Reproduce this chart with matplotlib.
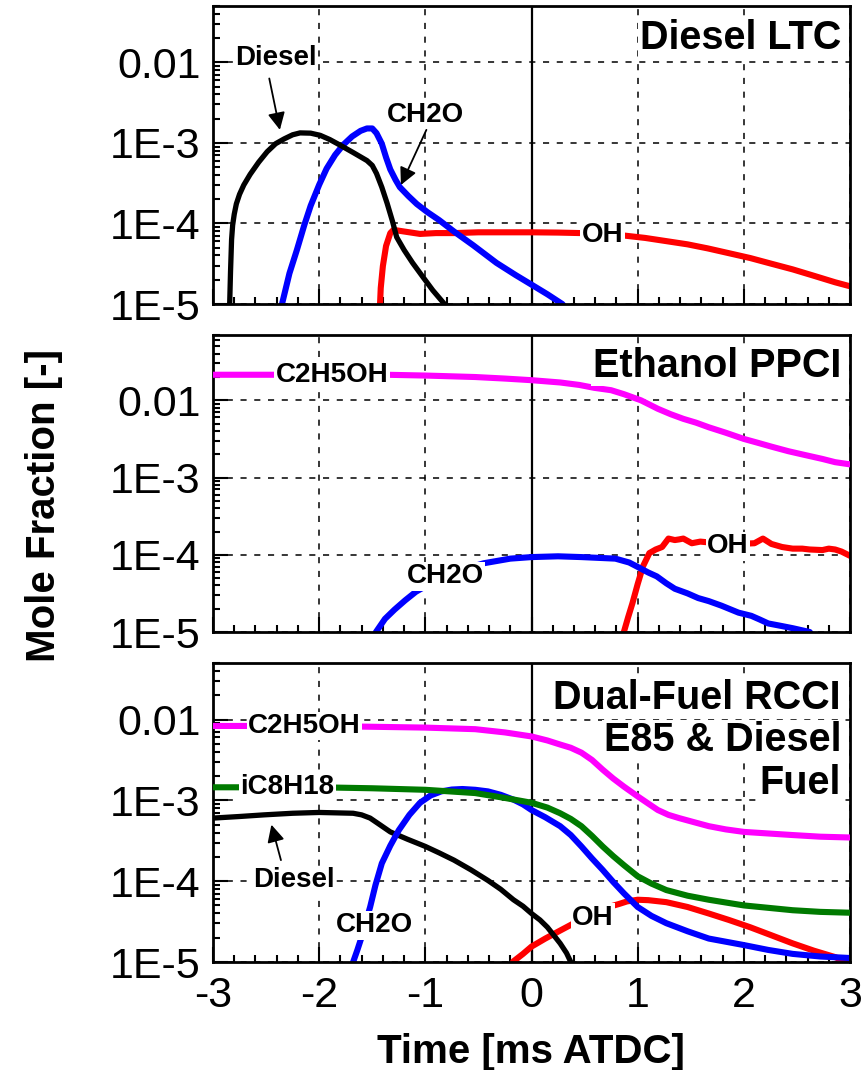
import matplotlib
matplotlib.use("Agg")
import matplotlib.pyplot as plt
from matplotlib.ticker import FixedLocator, FixedFormatter, LogLocator, MultipleLocator, NullFormatter

plt.rcParams['font.family'] = ['Liberation Sans', 'DejaVu Sans']
plt.rcParams['axes.unicode_minus'] = False

# ---------------- Diesel LTC ----------------
ltc_diesel_t = [-2.845, -2.835, -2.825, -2.815, -2.80, -2.78, -2.75, -2.71, -2.65, -2.57, -2.49, -2.41, -2.33,
                -2.25, -2.18, -2.08, -1.99, -1.90, -1.80, -1.68, -1.55, -1.50, -1.46, -1.41, -1.36, -1.31,
                -1.27, -1.20, -1.12, -1.02, -0.93, -0.82, -0.78]
ltc_diesel_x = [7.9e-6, 2.5e-5, 6.3e-5, 9.5e-5, 1.3e-4, 1.75e-4, 2.3e-4, 3.0e-4, 4.07e-4, 5.75e-4, 7.76e-4,
                9.77e-4, 1.12e-3, 1.26e-3, 1.33e-3, 1.32e-3, 1.24e-3, 1.10e-3, 9.33e-4, 7.59e-4, 6.03e-4, 5.25e-4,
                4.17e-4, 2.82e-4, 1.78e-4, 1.07e-4, 6.76e-5, 4.68e-5, 3.24e-5, 2.14e-5, 1.48e-5, 1.0e-5, 8.3e-6]

ltc_ch2o_t = [-2.37, -2.35, -2.28, -2.21, -2.14, -2.08, -2.0, -1.93, -1.85, -1.77, -1.69, -1.61, -1.55, -1.50,
              -1.46, -1.41, -1.37, -1.33, -1.28, -1.24, -1.16, -1.08, -0.98, -0.87, -0.73, -0.55, -0.33, -0.15,
              0.0, 0.15, 0.29, 0.32]
ltc_ch2o_x = [7.9e-6, 1.0e-5, 2.4e-5, 4.68e-5, 9.55e-5, 1.66e-4, 3.02e-4, 4.79e-4, 7.08e-4, 9.55e-4, 1.20e-3, 1.41e-3,
              1.51e-3, 1.51e-3, 1.32e-3, 9.77e-4, 6.61e-4, 4.68e-4, 3.47e-4, 2.82e-4, 2.19e-4, 1.74e-4, 1.38e-4,
              1.10e-4, 7.94e-5, 5.37e-5, 3.24e-5, 2.29e-5, 1.74e-5, 1.32e-5, 1.0e-5, 8.9e-6]

ltc_oh_t = [-1.43, -1.42, -1.40, -1.37, -1.33, -1.30, -1.2, -1.05, -0.9, -0.73, -0.5, -0.25, 0.0, 0.25, 0.47,
            0.87, 1.07, 1.27, 1.47, 1.66, 1.86, 2.06, 2.26, 2.46, 2.66, 2.86, 3.0]
ltc_oh_x = [7.9e-6, 1.58e-5, 2.95e-5, 5.25e-5, 7.59e-5, 8.32e-5, 7.94e-5, 7.41e-5, 7.59e-5, 7.59e-5, 7.76e-5,
            7.76e-5, 7.76e-5, 7.7e-5, 7.59e-5, 7.08e-5, 6.61e-5, 6.03e-5, 5.50e-5, 4.90e-5, 4.27e-5, 3.72e-5,
            3.16e-5, 2.69e-5, 2.24e-5, 1.86e-5, 1.66e-5]

# ---------------- Ethanol PPCI ----------------
ppci_etoh_t = [-3.0, -2.0, -1.37, -1.0, -0.53, -0.25, 0.0, 0.27, 0.45, 0.59, 0.75, 0.87, 1.03, 1.19, 1.31, 1.43,
               1.55, 1.67, 1.83, 2.0, 2.13, 2.26, 2.42, 2.58, 2.74, 2.86, 3.0]
ppci_etoh_x = [0.0214, 0.0214, 0.0214, 0.0209, 0.0200, 0.0191, 0.0182, 0.0170, 0.0158, 0.0145, 0.0135, 0.0120,
               0.0100, 7.76e-3, 6.61e-3, 5.75e-3, 5.13e-3, 4.47e-3, 3.80e-3, 3.16e-3, 2.82e-3, 2.51e-3, 2.19e-3,
               1.95e-3, 1.74e-3, 1.58e-3, 1.48e-3]

ppci_ch2o_t = [-1.48, -1.465, -1.38, -1.29, -1.19, -1.09, -0.9, -0.7, -0.45, -0.2, 0.0, 0.25, 0.47, 0.79, 0.92,
               0.99, 1.1, 1.18, 1.27, 1.35, 1.47, 1.57, 1.67, 1.79, 1.95, 2.07, 2.15, 2.23, 2.35, 2.46, 2.62, 2.65]
ppci_ch2o_x = [7.9e-6, 1.0e-5, 1.48e-5, 1.95e-5, 2.57e-5, 3.31e-5, 4.68e-5, 6.17e-5, 7.76e-5, 8.91e-5, 9.33e-5,
               9.55e-5, 9.33e-5, 8.91e-5, 7.94e-5, 7.08e-5, 5.89e-5, 5.25e-5, 4.27e-5, 3.63e-5, 3.16e-5, 2.75e-5,
               2.51e-5, 2.19e-5, 1.78e-5, 1.62e-5, 1.45e-5, 1.29e-5, 1.20e-5, 1.12e-5, 1.0e-5, 8.9e-6]

ppci_oh_t = [0.86, 0.87, 0.91, 0.95, 1.0, 1.05, 1.11, 1.17, 1.23, 1.29, 1.35, 1.39, 1.43, 1.51, 1.59, 1.75, 1.95,
             2.10, 2.18, 2.26, 2.36, 2.46, 2.55, 2.62, 2.74, 2.80, 2.86, 2.92, 2.98]
ppci_oh_x = [7.9e-6, 1.0e-5, 1.55e-5, 2.34e-5, 4.17e-5, 7.08e-5, 1.05e-4, 1.17e-4, 1.26e-4, 1.62e-4, 1.55e-4,
             1.58e-4, 1.62e-4, 1.41e-4, 1.48e-4, 1.41e-4, 1.38e-4, 1.41e-4, 1.62e-4, 1.38e-4, 1.26e-4, 1.20e-4,
             1.20e-4, 1.17e-4, 1.15e-4, 1.20e-4, 1.17e-4, 1.10e-4, 1.0e-4]

# ---------------- Dual-Fuel RCCI ----------------
rcci_etoh_t = [-3.0, -2.0, -1.5, -1.0, -0.53, -0.25, 0.0, 0.15, 0.27, 0.37, 0.47, 0.57, 0.67, 0.77, 0.87, 1.0,
               1.1, 1.19, 1.29, 1.39, 1.53, 1.67, 1.83, 2.0, 2.23, 2.46, 2.72, 3.0]
rcci_etoh_x = [8.32e-3, 8.32e-3, 8.13e-3, 7.94e-3, 7.59e-3, 6.92e-3, 6.17e-3, 5.50e-3, 4.90e-3, 4.47e-3, 3.89e-3,
               3.16e-3, 2.40e-3, 1.86e-3, 1.48e-3, 1.12e-3, 9.12e-4, 7.59e-4, 6.61e-4, 6.03e-4, 5.37e-4, 4.79e-4,
               4.37e-4, 4.07e-4, 3.89e-4, 3.72e-4, 3.55e-4, 3.47e-4]

rcci_ic8_t = [-3.0, -2.0, -1.5, -1.0, -0.53, -0.25, 0.0, 0.15, 0.27, 0.37, 0.47, 0.57, 0.67, 0.77, 0.87, 1.0,
              1.13, 1.27, 1.47, 1.67, 2.0, 2.23, 2.46, 2.72, 3.0]
rcci_ic8_x = [1.45e-3, 1.45e-3, 1.41e-3, 1.35e-3, 1.23e-3, 1.07e-3, 9.33e-4, 8.13e-4, 6.92e-4, 5.89e-4, 4.79e-4,
              3.63e-4, 2.69e-4, 2.04e-4, 1.58e-4, 1.15e-4, 9.33e-5, 7.76e-5, 6.61e-5, 5.89e-5, 5.01e-5, 4.68e-5,
              4.37e-5, 4.17e-5, 4.07e-5]

rcci_diesel_t = [-3.0, -2.75, -2.52, -2.25, -2.0, -1.68, -1.6, -1.52, -1.43, -1.33, -1.17, -1.0, -0.87, -0.73,
                 -0.57, -0.41, -0.29, -0.17, -0.08, 0.0, 0.08, 0.15, 0.21, 0.27, 0.33, 0.37, 0.39]
rcci_diesel_x = [6.03e-4, 6.31e-4, 6.61e-4, 6.92e-4, 7.08e-4, 6.92e-4, 6.61e-4, 6.03e-4, 5.01e-4, 4.07e-4,
                 3.31e-4, 2.69e-4, 2.24e-4, 1.82e-4, 1.38e-4, 1.02e-4, 7.94e-5, 5.89e-5, 4.90e-5, 3.98e-5,
                 3.31e-5, 2.69e-5, 2.14e-5, 1.70e-5, 1.29e-5, 1.0e-5, 8.9e-6]

rcci_ch2o_t = [-1.70, -1.68, -1.64, -1.60, -1.56, -1.52, -1.47, -1.41, -1.33, -1.25, -1.15, -1.05, -0.95, -0.85,
               -0.75, -0.65, -0.53, -0.41, -0.29, -0.17, -0.08, 0.0, 0.13, 0.27, 0.37, 0.47, 0.57, 0.67, 0.77,
               0.87, 1.0, 1.13, 1.27, 1.47, 1.67, 2.0, 2.23, 2.46, 2.72, 3.0]
rcci_ch2o_x = [8.3e-6, 1.0e-5, 1.41e-5, 2.04e-5, 3.16e-5, 4.79e-5, 8.91e-5, 1.66e-4, 2.75e-4, 4.27e-4, 6.61e-4,
               9.33e-4, 1.15e-3, 1.29e-3, 1.36e-3, 1.38e-3, 1.35e-3, 1.29e-3, 1.17e-3, 1.02e-3, 8.91e-4, 7.59e-4,
               6.17e-4, 4.79e-4, 3.72e-4, 2.69e-4, 1.91e-4, 1.38e-4, 9.77e-5, 7.08e-5, 4.79e-5, 3.72e-5, 3.02e-5,
               2.40e-5, 1.95e-5, 1.62e-5, 1.41e-5, 1.26e-5, 1.17e-5, 1.12e-5]

rcci_oh_t = [-0.20, -0.17, -0.08, 0.0, 0.13, 0.27, 0.4, 0.55, 0.7, 0.83, 0.9, 1.0, 1.1, 1.27, 1.47, 1.67, 1.86,
             2.06, 2.26, 2.46, 2.66, 2.86, 3.0]
rcci_oh_x = [8.9e-6, 1.02e-5, 1.26e-5, 1.55e-5, 1.95e-5, 2.45e-5, 3.02e-5, 3.80e-5, 4.68e-5, 5.25e-5, 5.62e-5,
             5.89e-5, 5.82e-5, 5.50e-5, 4.79e-5, 3.98e-5, 3.31e-5, 2.69e-5, 2.14e-5, 1.70e-5, 1.38e-5, 1.15e-5,
             9.5e-6]

# axis ticks
x_ticks = [-3, -2, -1, 0, 1, 2, 3]
y_ticks = [1e-5, 1e-4, 1e-3, 1e-2]
y_tick_labels = ['1E-5', '1E-4', '1E-3', '0.01']
y_tops = [0.05, 0.07, 0.05]

BLACK, BLUE, RED, MAGENTA, GREEN = 'black', '#0000ff', '#ff0000', '#ff00ff', '#007a00'
LW = 4.4

fig = plt.figure(figsize=(8.66, 10.70), dpi=100)
W, H = 866.0, 1070.0
panel_px = [(6, 304), (335, 632), (663, 962)]
axes = []
for top, bot in panel_px:
    ax = fig.add_axes([213 / W, 1 - bot / H, 637 / W, (bot - top) / H])
    axes.append(ax)

for i, ax in enumerate(axes):
    ax.set_yscale('log')
    ax.set_xlim(-3, 3)
    ax.set_ylim(1e-5, y_tops[i])
    ax.yaxis.set_major_locator(FixedLocator(y_ticks))
    ax.yaxis.set_major_formatter(FixedFormatter(y_tick_labels))
    ax.yaxis.set_minor_locator(LogLocator(base=10, subs=range(2, 10), numticks=20))
    ax.yaxis.set_minor_formatter(NullFormatter())
    ax.xaxis.set_major_locator(FixedLocator(x_ticks))
    ax.xaxis.set_minor_locator(MultipleLocator(0.2))
    ax.tick_params(which='both', direction='in', top=False, right=False, width=1.5, labelsize=31)
    ax.tick_params(which='major', length=10.5)
    ax.tick_params(which='minor', length=5)
    ax.tick_params(axis='y', pad=9)
    ax.tick_params(axis='x', pad=10)
    for sp in ax.spines.values():
        sp.set_linewidth(2.0)
    ax.set_axisbelow(True)
    ax.grid(which='major', color='black', lw=1.1, ls=(0, (4, 5)))
    ax.axvline(0, color='black', lw=1.6, zorder=1.5)
    if i < 2:
        ax.tick_params(axis='x', labelbottom=False)


def tag(ax, x, y, s):
    ax.text(x, y, s, ha='center', va='center', fontsize=20, fontweight='bold',
            bbox=dict(fc='white', ec='none', pad=1.0), zorder=6)


def arrow(ax, tail, head):
    ax.annotate('', xy=head, xytext=tail, zorder=6,
                arrowprops=dict(arrowstyle='-|>', color='black', lw=1.3, mutation_scale=26,
                                shrinkA=0, shrinkB=0))


def title(ax, y, s):
    ax.text(0.986, y, s, transform=ax.transAxes, ha='right', va='center', fontsize=28.5,
            fontweight='bold', bbox=dict(fc='white', ec='none', pad=1.0), zorder=6)


# Diesel LTC
ax = axes[0]
ax.plot(ltc_diesel_t, ltc_diesel_x, color=BLACK, lw=3.8, zorder=3)
ax.plot(ltc_ch2o_t, ltc_ch2o_x, color=BLUE, lw=LW, zorder=2.5)
ax.plot(ltc_oh_t, ltc_oh_x, color=RED, lw=LW, zorder=2.4)
tag(ax, -2.41, 1.12e-2, 'Diesel')
arrow(ax, (-2.47, 6.3e-3), (-2.37, 1.45e-3))
tag(ax, -1.0, 2.19e-3, 'CH2O')
arrow(ax, (-0.99, 1.45e-3), (-1.23, 3.0e-4))
tag(ax, 0.67, 7.2e-5, 'OH')
title(ax, 0.893, 'Diesel LTC')

# Ethanol PPCI
ax = axes[1]
ax.plot(ppci_etoh_t, ppci_etoh_x, color=MAGENTA, lw=LW, zorder=2.6)
ax.plot(ppci_ch2o_t, ppci_ch2o_x, color=BLUE, lw=LW, zorder=2.5)
ax.plot(ppci_oh_t, ppci_oh_x, color=RED, lw=LW, zorder=2.4)
tag(ax, -1.88, 0.0214, 'C2H5OH')
tag(ax, -0.81, 5.25e-5, 'CH2O')
tag(ax, 1.85, 1.29e-4, 'OH')
title(ax, 0.896, 'Ethanol PPCI')

# Dual-Fuel RCCI
ax = axes[2]
ax.plot(rcci_etoh_t, rcci_etoh_x, color=MAGENTA, lw=LW, zorder=2.6)
ax.plot(rcci_ic8_t, rcci_ic8_x, color=GREEN, lw=LW, zorder=2.55)
ax.plot(rcci_ch2o_t, rcci_ch2o_x, color=BLUE, lw=LW, zorder=2.5)
ax.plot(rcci_diesel_t, rcci_diesel_x, color=BLACK, lw=3.8, zorder=2.45)
ax.plot(rcci_oh_t, rcci_oh_x, color=RED, lw=LW, zorder=2.4)
tag(ax, -2.14, 8.3e-3, 'C2H5OH')
tag(ax, -2.30, 1.45e-3, 'iC8H18')
tag(ax, -2.24, 1.02e-4, 'Diesel')
arrow(ax, (-2.36, 1.82e-4), (-2.45, 5.0e-4))
tag(ax, -1.48, 2.85e-5, 'CH2O')
tag(ax, 0.58, 3.55e-5, 'OH')
title(ax, 0.883, 'Dual-Fuel RCCI')
title(ax, 0.742, 'E85 & Diesel')
title(ax, 0.599, 'Fuel')

fig.text(44 / W, 1 - 506 / H, 'Mole Fraction [-]', rotation=90, ha='center', va='center',
         fontsize=29, fontweight='bold')
fig.text(531 / W, 1 - 1063 / H, 'Time [ms ATDC]', ha='center', va='baseline',
         fontsize=29, fontweight='bold')

fig.savefig('out.png', dpi=100)
